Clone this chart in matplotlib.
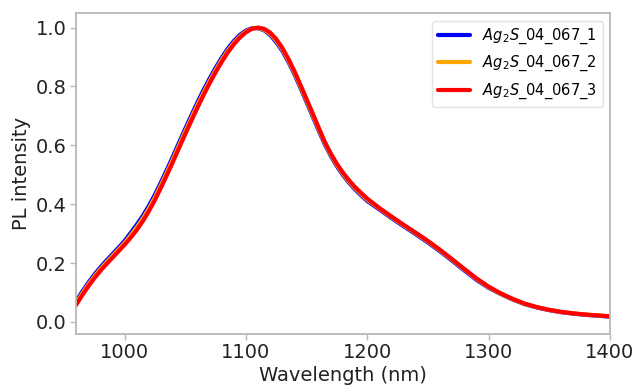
import matplotlib
matplotlib.use("Agg")
import matplotlib.pyplot as plt

wavelength = [960, 965, 970, 975, 980, 985, 990, 995, 1000, 1005,
              1010, 1015, 1020, 1025, 1030, 1035, 1040, 1045, 1050, 1055,
              1060, 1065, 1070, 1075, 1080, 1085, 1090, 1095, 1100, 1105,
              1110, 1115, 1120, 1125, 1130, 1135, 1140, 1145, 1150, 1155,
              1160, 1165, 1170, 1175, 1180, 1185, 1190, 1195, 1200, 1210,
              1220, 1230, 1240, 1250, 1260, 1270, 1280, 1290, 1300, 1310,
              1320, 1330, 1340, 1350, 1360, 1370, 1380, 1390, 1400]

pl_1 = [0.069, 0.102, 0.132, 0.160, 0.185, 0.208, 0.230, 0.252, 0.275, 0.302,
        0.330, 0.360, 0.394, 0.432, 0.474, 0.518, 0.563, 0.610, 0.656, 0.701,
        0.745, 0.787, 0.826, 0.863, 0.897, 0.928, 0.954, 0.975, 0.990, 0.998,
        0.998, 0.991, 0.975, 0.951, 0.921, 0.884, 0.842, 0.795, 0.747, 0.699,
        0.650, 0.604, 0.564, 0.529, 0.499, 0.473, 0.450, 0.430, 0.411, 0.382,
        0.353, 0.325, 0.298, 0.270, 0.240, 0.208, 0.175, 0.143, 0.116, 0.095,
        0.076, 0.060, 0.049, 0.040, 0.033, 0.028, 0.024, 0.021, 0.018]

pl_2 = [0.063, 0.096, 0.126, 0.154, 0.179, 0.202, 0.224, 0.246, 0.268, 0.294,
        0.321, 0.351, 0.385, 0.423, 0.465, 0.509, 0.554, 0.601, 0.647, 0.692,
        0.736, 0.778, 0.818, 0.855, 0.890, 0.921, 0.948, 0.970, 0.987, 0.997,
        0.999, 0.993, 0.979, 0.956, 0.926, 0.889, 0.847, 0.800, 0.752, 0.704,
        0.655, 0.608, 0.568, 0.533, 0.503, 0.477, 0.454, 0.434, 0.415, 0.385,
        0.356, 0.328, 0.301, 0.273, 0.243, 0.211, 0.178, 0.146, 0.118, 0.096,
        0.077, 0.061, 0.050, 0.041, 0.034, 0.029, 0.025, 0.022, 0.019]

pl_3 = [0.057, 0.090, 0.120, 0.148, 0.173, 0.196, 0.218, 0.240, 0.262, 0.286,
        0.312, 0.342, 0.376, 0.414, 0.456, 0.500, 0.545, 0.592, 0.638, 0.683,
        0.727, 0.770, 0.810, 0.848, 0.883, 0.915, 0.943, 0.966, 0.984, 0.996,
        1.000, 0.996, 0.983, 0.961, 0.931, 0.894, 0.852, 0.805, 0.757, 0.709,
        0.660, 0.612, 0.572, 0.537, 0.507, 0.481, 0.458, 0.438, 0.419, 0.387,
        0.358, 0.330, 0.303, 0.275, 0.245, 0.213, 0.180, 0.148, 0.120, 0.097,
        0.078, 0.062, 0.050, 0.041, 0.034, 0.029, 0.025, 0.022, 0.019]

labels = [r"$Ag_2S$_04_067_1", r"$Ag_2S$_04_067_2", r"$Ag_2S$_04_067_3"]
colors = ["blue", "orange", "red"]

spine_grey = "#b8b8b8"

fig = plt.figure(figsize=(6.36, 3.85), dpi=100)
ax = fig.add_axes([0.1195, 0.1325, 0.8395, 0.8325])

for y, lab, c in zip([pl_1, pl_2, pl_3], labels, colors):
    ax.plot(wavelength, y, color=c, lw=3, label=lab,
            solid_joinstyle="round", solid_capstyle="round")

ax.set_xlim(960, 1400)
ax.set_ylim(-0.041, 1.048)
ax.set_xticks([1000, 1100, 1200, 1300, 1400])
ax.set_yticks([0.0, 0.2, 0.4, 0.6, 0.8, 1.0])

for s in ax.spines.values():
    s.set_color(spine_grey)
    s.set_linewidth(1.3)
ax.tick_params(colors=spine_grey, labelcolor="#222222", labelsize=14,
               length=4, width=1, pad=2.5)

ax.set_xlabel("Wavelength (nm)", fontsize=14, color="#222222", labelpad=3)
ax.set_ylabel("PL intensity", fontsize=14, color="#222222")

leg = ax.legend(loc="upper right", fontsize=10.5, handlelength=2.2,
                borderaxespad=0.5, labelspacing=0.55)
leg.get_frame().set_edgecolor("#dddddd")

fig.savefig("out.png", dpi=100)
